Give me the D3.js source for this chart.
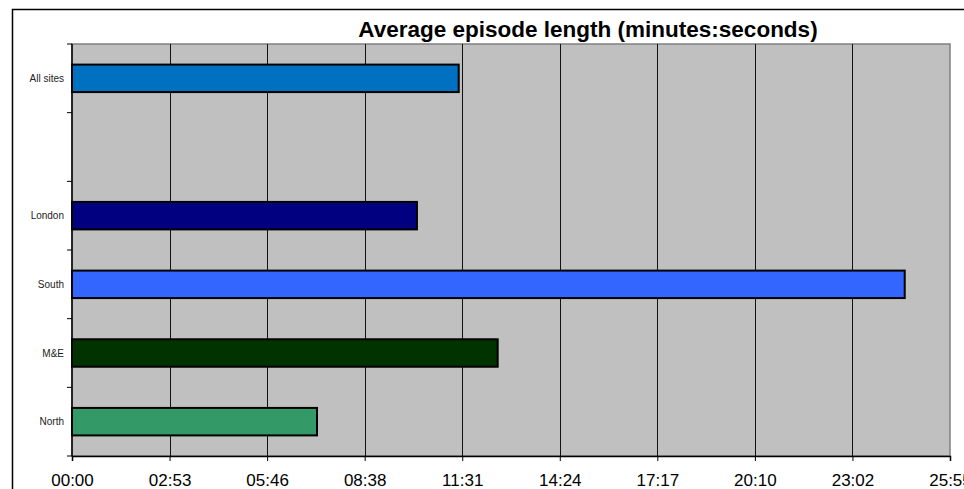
<!DOCTYPE html>
<html>
<head>
<meta charset="utf-8">
<script src="https://cdn.jsdelivr.net/npm/d3@7"></script>
<style>
  body { margin: 0; background: #fff; }
  svg { display: block; font-family: "Liberation Sans", Arial, sans-serif; }
</style>
</head>
<body>
<div id="chart-area"></div>
<script>
// categories top to bottom, the empty one is a blank row in the original
const categories = ["All sites", "", "London", "South", "M&E", "North"];
// average episode length in seconds
const avgSeconds = [685, null, 611, 1475, 754, 434];
const barColors = ["#0070C0", null, "#000080", "#3366FF", "#003300", "#339966"];
// axis runs 0 to 0.018 days, in steps of 0.002 days (172.8 s)
const tickSeconds = [0, 172.8, 345.6, 518.4, 691.2, 864, 1036.8, 1209.6, 1382.4, 1555.2];
const chartTitle = "Average episode length (minutes:seconds)";

const WIDTH = 964, HEIGHT = 489;
const plot = { left: 72, right: 950, top: 44, bottom: 456 };

const svg = d3.select("#chart-area").append("svg")
    .attr("width", WIDTH).attr("height", HEIGHT);

// outer chart frame
svg.append("rect")
    .attr("x", 12.5).attr("y", 9.5)
    .attr("width", WIDTH + 20).attr("height", HEIGHT + 20)
    .attr("fill", "#fff").attr("stroke", "#000").attr("stroke-width", 1.5);

const x = d3.scaleLinear().domain([0, 1555.2]).range([plot.left, plot.right]);
const y = d3.scaleBand().domain(categories).range([plot.top, plot.bottom]);

// plot background
svg.append("rect")
    .attr("x", plot.left).attr("y", plot.top)
    .attr("width", plot.right - plot.left).attr("height", plot.bottom - plot.top)
    .attr("fill", "#C0C0C0").attr("stroke", "#808080").attr("stroke-width", 1.5);

// vertical gridlines
svg.append("g").selectAll("line").data(tickSeconds.slice(1, -1)).join("line")
    .attr("x1", d => Math.round(x(d)) + 0.5).attr("x2", d => Math.round(x(d)) + 0.5)
    .attr("y1", plot.top).attr("y2", plot.bottom)
    .attr("stroke", "#111").attr("stroke-width", 1);

function fmt(s) {
    const t = Math.round(s);
    const m = Math.floor(t / 60), sec = t % 60;
    return String(m).padStart(2, "0") + ":" + String(sec).padStart(2, "0");
}

const rows = categories.map((c, i) => ({ cat: c, value: avgSeconds[i], color: barColors[i] }))
    .filter(d => d.value != null);

const bh = y.bandwidth() * 0.4;
svg.append("g").selectAll("rect").data(rows).join("rect")
    .attr("x", x(0))
    .attr("y", d => y(d.cat) + (y.bandwidth() - bh) / 2)
    .attr("width", d => x(d.value) - x(0))
    .attr("height", bh)
    .attr("fill", d => d.color)
    .attr("stroke", "#000").attr("stroke-width", 2);

// x axis
const xAxis = svg.append("g")
    .attr("transform", `translate(0, ${plot.bottom})`)
    .call(d3.axisBottom(x).tickValues(tickSeconds).tickFormat(fmt).tickSize(5).tickPadding(13));
xAxis.select(".domain").attr("stroke", "#000").attr("stroke-width", 1.5);
xAxis.selectAll("text").attr("font-size", "17px").attr("fill", "#000")
    .style("font-family", "Liberation Sans, Arial, sans-serif");

// y axis: ticks on band boundaries
const yAxis = svg.append("g").attr("transform", `translate(${plot.left}, 0)`);
yAxis.append("line")
    .attr("x1", 0).attr("x2", 0).attr("y1", plot.top).attr("y2", plot.bottom)
    .attr("stroke", "#000").attr("stroke-width", 1.5);
const bounds = categories.map(c => y(c)).concat([plot.bottom]);
yAxis.selectAll(".tick").data(bounds).join("line")
    .attr("x1", -5).attr("x2", 0)
    .attr("y1", d => d).attr("y2", d => d)
    .attr("stroke", "#000").attr("stroke-width", 1);
yAxis.selectAll("text").data(categories.filter(c => c !== "")).join("text")
    .attr("x", -8)
    .attr("y", d => y(d) + y.bandwidth() / 2)
    .attr("dy", "0.35em")
    .attr("text-anchor", "end")
    .attr("font-size", "10px")
    .attr("fill", "#222")
    .text(d => d);

// title
svg.append("text")
    .attr("x", 588).attr("y", 37)
    .attr("text-anchor", "middle")
    .attr("font-size", "22.5px")
    .attr("font-weight", "bold")
    .attr("fill", "#000")
    .text(chartTitle);
</script>
</body>
</html>
